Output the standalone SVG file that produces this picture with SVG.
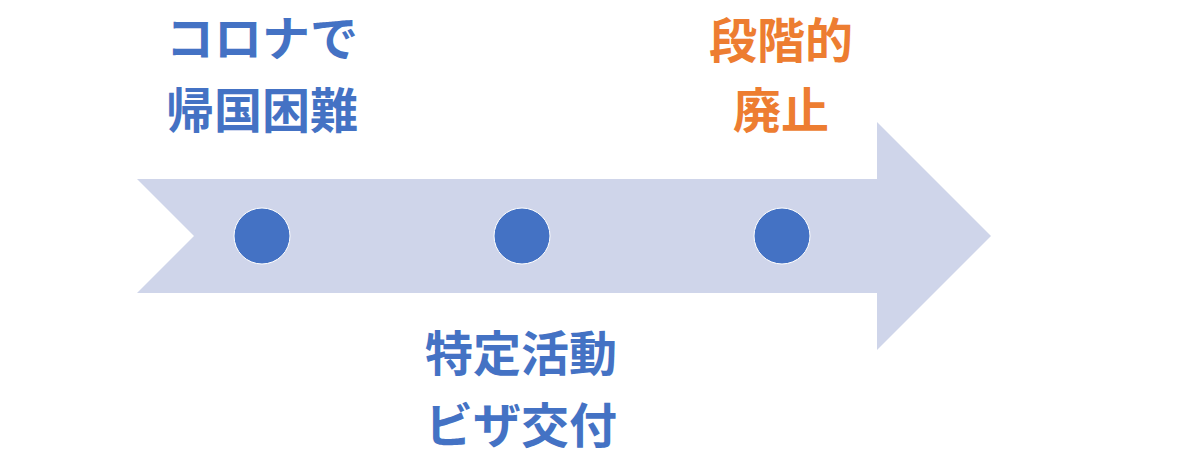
<svg xmlns="http://www.w3.org/2000/svg" width="1190" height="457" viewBox="0 0 1190 457">
<style>
.t{font-family:"Noto Sans CJK JP","Noto Sans",sans-serif;font-weight:bold;font-size:48px;text-anchor:middle}
.b{fill:#4472C4}
.o{fill:#ED7D31}
.dot{fill:#4472C4;stroke:#FFFFFF;stroke-width:1}
</style>
<rect width="1190" height="457" fill="#FFFFFF"/>
<g id="arrow">
<polygon points="137,179 877,179 877,122 991,236 877,350 877,293 137,293 194,236" fill="#CFD5EA"/>
</g>
<g id="node1">
<circle class="dot" cx="262" cy="236" r="28"/>
<text class="t b" x="262" y="56">コロナで</text>
<text class="t b" x="262" y="128">帰国困難</text>
</g>
<g id="node2">
<circle class="dot" cx="522" cy="236" r="28"/>
<text class="t b" x="521" y="371">特定活動</text>
<text class="t b" x="521" y="443">ビザ交付</text>
</g>
<g id="node3">
<circle class="dot" cx="782" cy="236" r="28"/>
<text class="t o" x="781" y="58">段階的</text>
<text class="t o" x="781" y="128">廃止</text>
</g>
<g id="connectors"></g>
</svg>
